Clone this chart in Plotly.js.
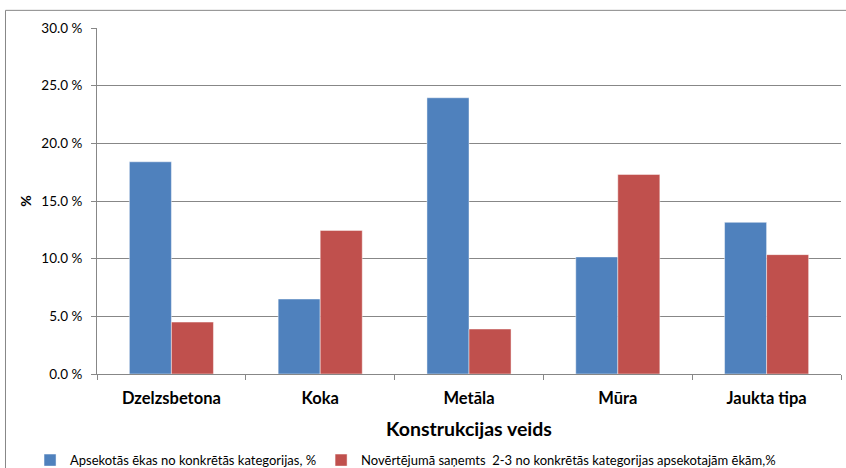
<!DOCTYPE html>
<html>
<head>
<meta charset="utf-8">
<script src="https://cdn.plot.ly/plotly-3.0.1.min.js"></script>
<style>
html,body{margin:0;padding:0;background:#fff;}
#chart{width:846px;height:468px;}
</style>
</head>
<body>
<div id="chart"></div>
<script>
// Data
const categories = ['Dzelzsbetona', 'Koka', 'Metāla', 'Mūra', 'Jaukta tipa'];
const surveyedShare = [18.4, 6.5, 23.95, 10.15, 13.15];
const ratedShare = [4.5, 12.45, 3.9, 17.3, 10.35];
const seriesNames = [
  'Apsekotās ēkas no konkrētās kategorijas, %',
  'Novērtējumā saņemts\u00a0 2-3 no konkrētās kategorijas apsekotajām ēkām,%'
];
const yTicks = [0, 5, 10, 15, 20, 25, 30];
const yTickLabels = yTicks.map(v => v.toFixed(1) + ' %');

const FONT = 'Lato, "Open Sans", sans-serif';
const GRID = '#878787';

const traces = [
  {
    type: 'bar',
    name: seriesNames[0],
    x: categories,
    y: surveyedShare,
    marker: {color: '#4F81BD', line: {color: 'rgba(255,255,255,0.45)', width: 1}},
    hoverinfo: 'none'
  },
  {
    type: 'bar',
    name: seriesNames[1],
    x: categories,
    y: ratedShare,
    marker: {color: '#C0504D', line: {color: 'rgba(255,255,255,0.45)', width: 1}},
    hoverinfo: 'none'
  }
];

const layout = {
  width: 846,
  height: 468,
  paper_bgcolor: '#ffffff',
  plot_bgcolor: '#ffffff',
  font: {family: FONT, color: '#000000', size: 12},
  margin: {l: 97, r: 5.4, t: 28, b: 94, pad: 0, autoexpand: false},
  barmode: 'group',
  bargap: 0.435,
  bargroupgap: 0,
  showlegend: true,
  legend: {
    orientation: 'h',
    x: -0.09,
    xanchor: 'left',
    y: -0.249,
    yanchor: 'middle',
    font: {family: FONT, size: 13, color: '#000'},
    itemwidth: 30,
    bgcolor: 'rgba(0,0,0,0)',
    traceorder: 'normal'
  },
  xaxis: {
    type: 'category',
    showgrid: false,
    showline: true,
    linecolor: GRID,
    linewidth: 1,
    ticks: 'outside',
    tickson: 'boundaries',
    ticklen: 5,
    tickcolor: GRID,
    tickfont: {family: FONT, size: 16.5, color: '#000', weight: 'bold'},
    ticklabelstandoff: 9,
    title: {
      text: '<b>Konstrukcijas veids</b>',
      font: {family: FONT, size: 19.5, color: '#000'},
      standoff: 15
    },
    automargin: false,
    fixedrange: true
  },
  yaxis: {
    range: [0, 30],
    tickmode: 'array',
    tickvals: yTicks,
    ticktext: yTickLabels,
    showgrid: true,
    gridcolor: GRID,
    gridwidth: 1,
    zeroline: false,
    showline: true,
    linecolor: GRID,
    linewidth: 1,
    ticks: 'outside',
    ticklen: 5,
    tickcolor: GRID,
    ticklabelstandoff: 6,
    tickfont: {family: FONT, size: 13.5, color: '#000'},
    title: {
      text: '<b>%</b>',
      font: {family: FONT, size: 14, color: '#000'},
      standoff: 6
    },
    automargin: false,
    fixedrange: true
  },
  shapes: [
    {
      type: 'rect', xref: 'paper', yref: 'paper',
      x0: -0.123, x1: 1.03, y0: -0.4, y1: 1.051,
      line: {color: GRID, width: 1},
      fillcolor: 'rgba(0,0,0,0)',
      layer: 'below'
    }
  ]
};

Plotly.newPlot('chart', traces, layout, {displayModeBar: false, staticPlot: true});
</script>
</body>
</html>
